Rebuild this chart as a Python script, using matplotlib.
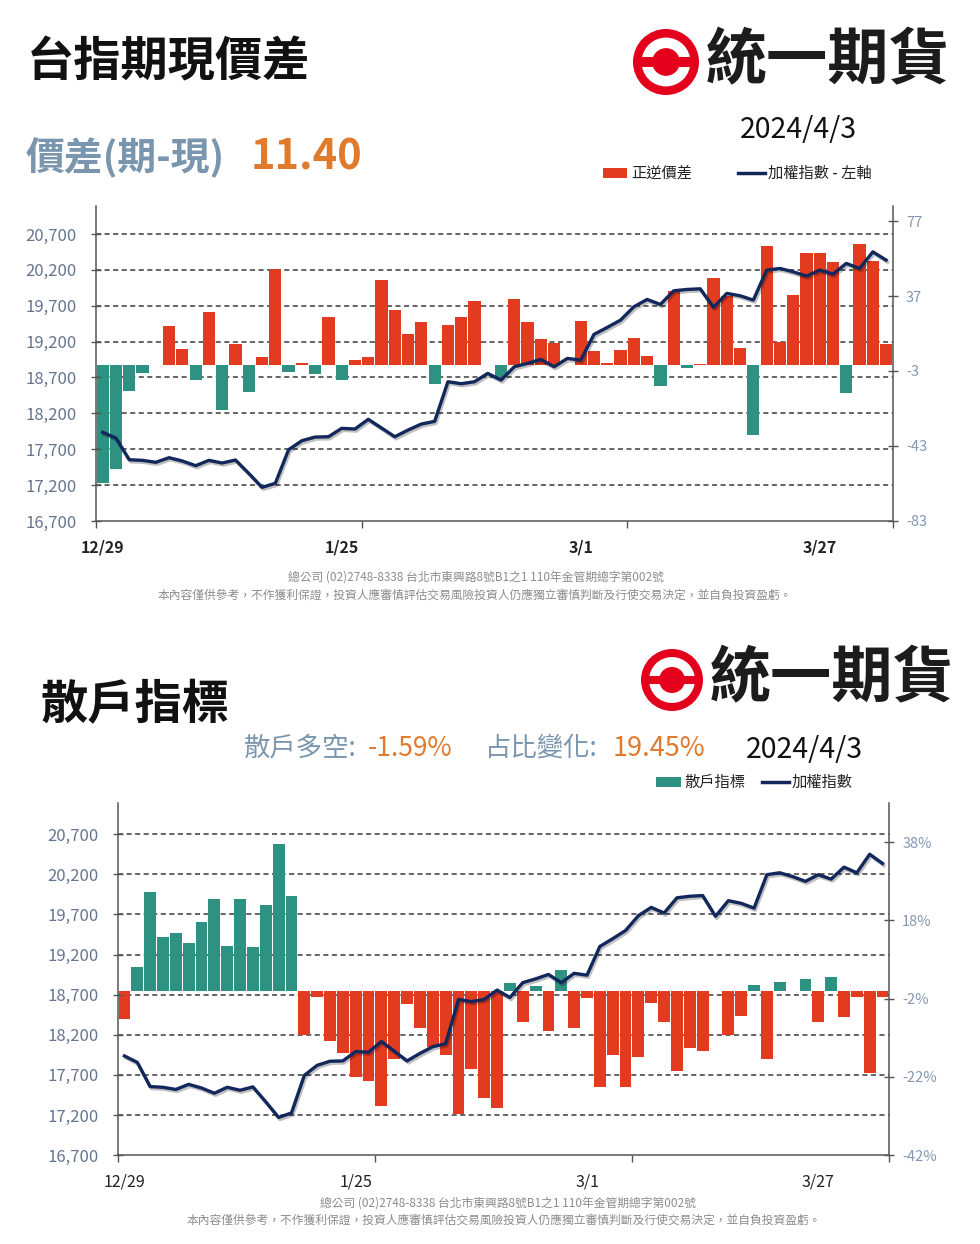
import numpy as np
import matplotlib
matplotlib.use('Agg')
import matplotlib.pyplot as plt
import matplotlib.patheffects as pe
from matplotlib.patches import Rectangle, Circle

plt.rcParams['font.family'] = ['Noto Sans CJK TC', 'DejaVu Sans']

# ---- data ----
dates = ['12/29',
         '1/2', '1/3', '1/4', '1/5',
         '1/8', '1/9', '1/10', '1/11', '1/12',
         '1/15', '1/16', '1/17', '1/18', '1/19',
         '1/22', '1/23', '1/24', '1/25', '1/26',
         '1/29', '1/30', '1/31', '2/1', '2/2',
         '2/5', '2/15', '2/16',
         '2/19', '2/20', '2/21', '2/22', '2/23',
         '2/26', '2/27', '2/29', '3/1',
         '3/4', '3/5', '3/6', '3/7', '3/8',
         '3/11', '3/12', '3/13', '3/14', '3/15',
         '3/18', '3/19', '3/20', '3/21', '3/22',
         '3/25', '3/26', '3/27', '3/28', '3/29',
         '4/1', '4/2', '4/3']

taiex = [17936, 17856, 17554, 17545, 17518, 17582, 17536, 17471, 17545, 17508,
         17550, 17364, 17169, 17225, 17693, 17819, 17870, 17874, 17991, 17982,
         18117, 17996, 17874, 17968, 18051, 18089, 18641, 18613, 18641, 18757,
         18664, 18850, 18897, 18952, 18850, 18966, 18943, 19301, 19398, 19500,
         19685, 19788, 19718, 19908, 19927, 19936, 19677, 19872, 19839, 19779,
         20196, 20220, 20173, 20113, 20196, 20141, 20290, 20220, 20451, 20336]

# 正逆價差 (futures - spot)
spread = [-62.6, -55.4, -13.5, -3.9, 0.0, 21.2, 8.6, -7.8, 28.7, -23.8,
          11.6, -14.0, 4.3, 51.2, -3.7, 1.1, -4.6, 26.0, -7.8, 3.1,
          4.7, 45.5, 29.5, 16.9, 23.0, -10.1, 21.5, 25.6, 34.3, 0.0,
          -6.4, 35.2, 23.0, 14.1, 11.8, 0.0, 23.9, 7.7, 1.1, 8.4,
          14.6, 5.0, -11.0, 39.9, -1.5, 0.5, 46.4, 37.0, 9.1, -37.3,
          63.9, 12.7, 37.5, 59.8, 60.1, 55.3, -14.5, 64.9, 55.7, 11.4]

# 散戶指標 (%)
retail = [-7.3, 6.0, 25.2, 13.7, 14.7, 12.2, 17.7, 23.4, 11.5, 23.5,
          11.3, 21.8, 37.5, 24.3, -11.3, -1.7, -12.8, -16.0, -22.0, -23.0,
          -29.4, -17.4, -3.3, -9.5, -14.4, -16.4, -31.6, -19.9, -27.4, -29.9,
          2.0, -8.0, 1.3, -10.2, 5.2, -9.5, -1.9, -24.6, -16.4, -24.6,
          -17.0, -3.1, -8.0, -20.6, -14.7, -15.5, 0.0, -11.4, -6.5, 1.6,
          -17.4, 2.3, 0.0, 3.0, -7.9, 3.5, -6.8, -1.7, -21.1, -1.59]

label_idx = [0, 18, 36, 54]
left_ticks = [16700, 17200, 17700, 18200, 18700, 19200, 19700, 20200, 20700]
spread_ticks = [-83, -43, -3, 37, 77]
retail_ticks = [-42, -22, -2, 18, 38]

RED = '#e33b1f'
TEAL = '#2e9282'
NAVY = '#12285c'
LOGO_RED = '#e4001c'
SPINE = '#555555'

fig = plt.figure(figsize=(9.8, 12.44), dpi=100)


def panel(rect, bars, pos_col, neg_col, rticks, rlim, rfmt, xbold):
    x = np.arange(len(dates))
    ax = fig.add_axes(rect)
    axl = ax.twinx()
    ax.yaxis.tick_right()
    axl.yaxis.tick_left()

    cols = [pos_col if v > 0 else neg_col for v in bars]
    ax.bar(x, bars, width=0.92, color=cols, linewidth=0, zorder=2)

    # dashed grid follows the left (index) axis, drawn behind the bars
    for v in left_ticks[1:]:
        ax.plot([-0.5, len(dates) - 0.5], [v, v], transform=axl.transData,
                color='#3a3a3a', lw=1.1, ls=(0, (3.3, 2.3)), zorder=1)

    axl.plot(x, taiex, color=NAVY, lw=2.4, solid_joinstyle='round', zorder=3,
             path_effects=[pe.SimpleLineShadow(offset=(1, -1.5), alpha=0.25),
                           pe.Normal()])

    ax.set_xlim(-0.5, len(dates) - 0.5)
    ax.set_ylim(*rlim)
    ax.set_yticks(rticks)
    ax.set_yticklabels([rfmt(t) for t in rticks])
    axl.set_ylim(16700, 21090)
    axl.set_yticks(left_ticks)
    axl.set_yticklabels([f'{t:,}' for t in left_ticks])

    ax.set_xticks(label_idx)
    ax.set_xticklabels([dates[i] for i in label_idx],
                       fontweight='bold' if xbold else 'normal')
    ax.set_xticks([-0.5, 19.5, 39.5, 59.5], minor=True)
    ax.tick_params(axis='x', which='major', length=0, pad=13,
                   labelsize=11.5, labelcolor='#222222')
    ax.tick_params(axis='x', which='minor', length=5, direction='out',
                   color=SPINE, width=1)
    ax.tick_params(axis='y', length=7, direction='inout', color=SPINE,
                   width=1, labelsize=10.5, labelcolor='#8496b2', pad=6)
    axl.tick_params(axis='y', length=7, direction='inout', color=SPINE,
                    width=1, labelsize=12, labelcolor='#66758f', pad=10.5)

    for s in ['left', 'right', 'bottom']:
        ax.spines[s].set_color(SPINE)
        ax.spines[s].set_linewidth(1.1)
    ax.spines['top'].set_visible(False)
    for s in axl.spines.values():
        s.set_visible(False)
    return ax, axl


panel([0.098, 0.5812, 0.813, 0.2532], spread, RED, TEAL,
      spread_ticks, (-83, 85), lambda t: f'{t}', True)
panel([0.1204, 0.0715, 0.7867, 0.283], retail, TEAL, RED,
      retail_ticks, (-42, 48), lambda t: f'{t}%', False)

# ---- overlay in pixel coordinates for titles, legends and logos ----
ov = fig.add_axes([0, 0, 1, 1])
ov.set_xlim(0, 980)
ov.set_ylim(1244, 0)
ov.axis('off')


def logo(cx, cy, r, tx):
    ov.add_patch(Circle((cx, cy), r, fc=LOGO_RED, ec='none'))
    ov.add_patch(Circle((cx, cy), r * 0.74, fc='white', ec='none'))
    ov.add_patch(Rectangle((cx - r * 0.8, cy - r * 0.14), r * 1.6, r * 0.28,
                           fc=LOGO_RED, ec='none'))
    ov.add_patch(Circle((cx, cy), r * 0.42, fc=LOGO_RED, ec='none'))
    ov.text(tx, cy, '統一期貨', fontsize=44, fontweight='bold',
            color='#1c1c1c', ha='left', va='center')


BLUEGRAY = '#7a95ae'
ORANGE = '#e07a2c'

# top section
ov.text(27, 62, '台指期現價差', fontsize=34, fontweight='bold',
        color='#111111', ha='left', va='center')
logo(666, 62, 33, 706)
ov.text(740, 130, '2024/4/3', fontsize=20.5, color='#111111',
        ha='left', va='center')
ov.text(26, 158, '價差(期-現)', fontsize=28, fontweight='bold',
        color=BLUEGRAY, ha='left', va='center')
ov.text(251, 158, f'{spread[-1]:.2f}', fontsize=30, fontweight='bold',
        color=ORANGE, ha='left', va='center')
ov.add_patch(Rectangle((603, 168), 24, 10, fc=RED, ec='none'))
ov.text(631, 173, '正逆價差', fontsize=11, color='#222222',
        ha='left', va='center')
ov.plot([738, 765], [173, 173], color=NAVY, lw=2.5)
ov.text(768, 173, '加權指數 - 左軸', fontsize=11, color='#222222',
        ha='left', va='center')

FOOT1 = '總公司 (02)2748-8338 台北市東興路8號B1之1 110年金管期總字第002號'
FOOT2 = ('本內容僅供參考，不作獲利保證，投資人應審慎評估交易風險投資人仍應'
         '獨立審慎判斷及行使交易決定，並自負投資盈虧。')
ov.text(476, 577, FOOT1, fontsize=8.5, color='#8c8c8c', ha='center', va='center')
ov.text(475, 595, FOOT2, fontsize=8.5, color='#8c8c8c', ha='center', va='center')

# bottom section
logo(672, 680, 31, 710)
ov.text(40, 705, '散戶指標', fontsize=34, fontweight='bold',
        color='#111111', ha='left', va='center')
ov.text(244, 748, '散戶多空:', fontsize=19, color=BLUEGRAY,
        ha='left', va='center')
ov.text(368, 748, f'{retail[-1]:.2f}%', fontsize=19, color=ORANGE,
        ha='left', va='center')
ov.text(485, 748, '占比變化:', fontsize=19, color=BLUEGRAY,
        ha='left', va='center')
ov.text(613, 748, '19.45%', fontsize=19.5, color=ORANGE,
        ha='left', va='center')
ov.text(746, 750, '2024/4/3', fontsize=20.5, color='#111111',
        ha='left', va='center')
ov.add_patch(Rectangle((656, 777), 25, 10, fc=TEAL, ec='none'))
ov.text(684, 782, '散戶指標', fontsize=11, color='#222222',
        ha='left', va='center')
ov.plot([762, 789], [782, 782], color=NAVY, lw=2.5)
ov.text(792, 782, '加權指數', fontsize=11, color='#222222',
        ha='left', va='center')
ov.text(508, 1203, FOOT1, fontsize=8.5, color='#8c8c8c', ha='center', va='center')
ov.text(504, 1220, FOOT2, fontsize=8.5, color='#8c8c8c', ha='center', va='center')

fig.savefig('out.png', dpi=100, facecolor='white')
